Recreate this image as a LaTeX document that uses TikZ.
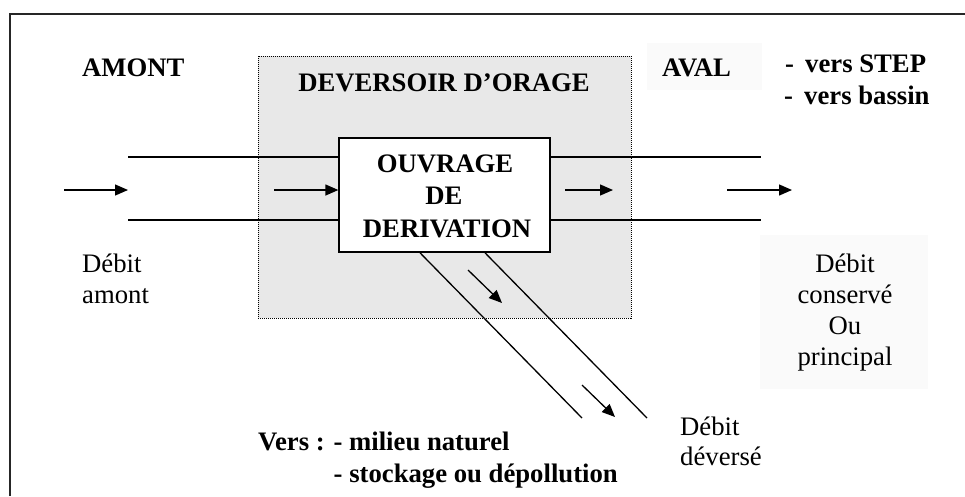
\documentclass[tikz,border=0pt]{standalone}
\usepackage{fontspec}
\setmainfont{Liberation Serif}
\usetikzlibrary{arrows.meta}
\definecolor{weirfill}{HTML}{E8E8E8}
\definecolor{softfill}{HTML}{FAFAFA}
\tikzset{
  pipe/.style={line width=1.3pt, line cap=butt},
  flow/.style={line width=1.3pt, -{Triangle[length=13pt,width=11pt]}},
  lbl/.style={inner sep=0pt, anchor=base west, font=\fontsize{26.7}{32.5}\selectfont},
  blbl/.style={lbl, font=\fontsize{26.7}{32.5}\selectfont\bfseries},
  clbl/.style={inner sep=0pt, anchor=base, font=\fontsize{26.7}{32.5}\selectfont},
  cblbl/.style={clbl, font=\fontsize{26.7}{32.5}\selectfont\bfseries},
}
\begin{document}
\begin{tikzpicture}[x=1pt,y=-1pt]
\useasboundingbox (0,0) rectangle (965,496);

% outer frame (top and left edges)
\draw[line width=1.6pt, color=black!85] (10,496) -- (10,14) -- (966,14);

% pale label backgrounds
\fill[softfill] (647,43) rectangle (762,90);
\fill[softfill] (760,235) rectangle (928,389);

% storm overflow structure
\node[draw, fill=weirfill, dash pattern=on 1pt off 1pt, line width=1pt,
      minimum width=373pt, minimum height=262pt, inner sep=0pt]
      (weir) at (444.5,187) {};

% upstream / downstream pipe walls
\coordinate (inUp) at (128,157);
\coordinate (inLo) at (128,220);
\coordinate (outUp) at (761,157);
\coordinate (outLo) at (761,220);
% overflow channel ends
\coordinate (ovA) at (582,418);
\coordinate (ovB) at (647,418);

% diversion structure
\node[draw, fill=white, line width=1.3pt, minimum width=211pt, minimum height=114pt,
      inner sep=0pt] (div) at (444.5,195) {};
\node[cblbl] (divt1) at (445,172) {OUVRAGE};
\node[cblbl] (divt2) at (444,204.5) {DE};
\node[cblbl] (divt3) at (447,237) {DERIVATION};

\draw[pipe] (inUp) -- (inUp -| div.west);
\draw[pipe] (inLo) -- (inLo -| div.west);
\draw[pipe] (outUp -| div.east) -- (outUp);
\draw[pipe] (outLo -| div.east) -- (outLo);
\coordinate (ovA0) at (420,252.8);
\coordinate (ovB0) at (485,252.8);
\draw[pipe] (ovA0) -- (ovA);
\draw[pipe] (ovB0) -- (ovB);

% flow arrows
\coordinate (f1s) at (64,190);
\coordinate (f1e) at (128,190);
\coordinate (f2s) at (274,190);
\coordinate (f3s) at (565,190);
\coordinate (f3e) at (613,190);
\coordinate (f4s) at (727,190);
\coordinate (f4e) at (792,190);
\coordinate (f5s) at (468,270);
\coordinate (f5e) at (502,303);
\coordinate (f6s) at (582,385);
\coordinate (f6e) at (615,417);
\draw[flow] (f1s) -- (f1e);
\draw[flow] (f2s) -- (f2s -| div.west);
\draw[flow] (f3s) -- (f3e);
\draw[flow] (f4s) -- (f4e);
\draw[flow] (f5s) -- (f5e);
\draw[flow] (f6s) -- (f6e);

% labels
\node[blbl] (amont) at (82,76) {AMONT};
\node[cblbl] (weirt) at (444,91) {DEVERSOIR D’ORAGE};
\node[blbl] (aval) at (662,76) {AVAL};
\node[blbl] (step) at (785,72) {-\, vers STEP};
\node[blbl] (bassin) at (784,104) {-\, vers bassin};

\node[lbl] (qup1) at (82,272) {Débit};
\node[lbl] (qup2) at (82,303) {amont};

\node[clbl] (qc1) at (845,272) {Débit};
\node[clbl] (qc2) at (845,303) {conservé};
\node[clbl] (qc3) at (845,334) {Ou};
\node[clbl] (qc4) at (845,365) {principal};

\node[lbl] (qd1) at (680,435) {Débit};
\node[lbl] (qd2) at (680,465) {déversé};

\node[blbl] (vers1) at (258,450) {Vers : - milieu naturel};
\node[blbl] (vers2) at (333.5,482) {- stockage ou dépollution};
\end{tikzpicture}
\end{document}
